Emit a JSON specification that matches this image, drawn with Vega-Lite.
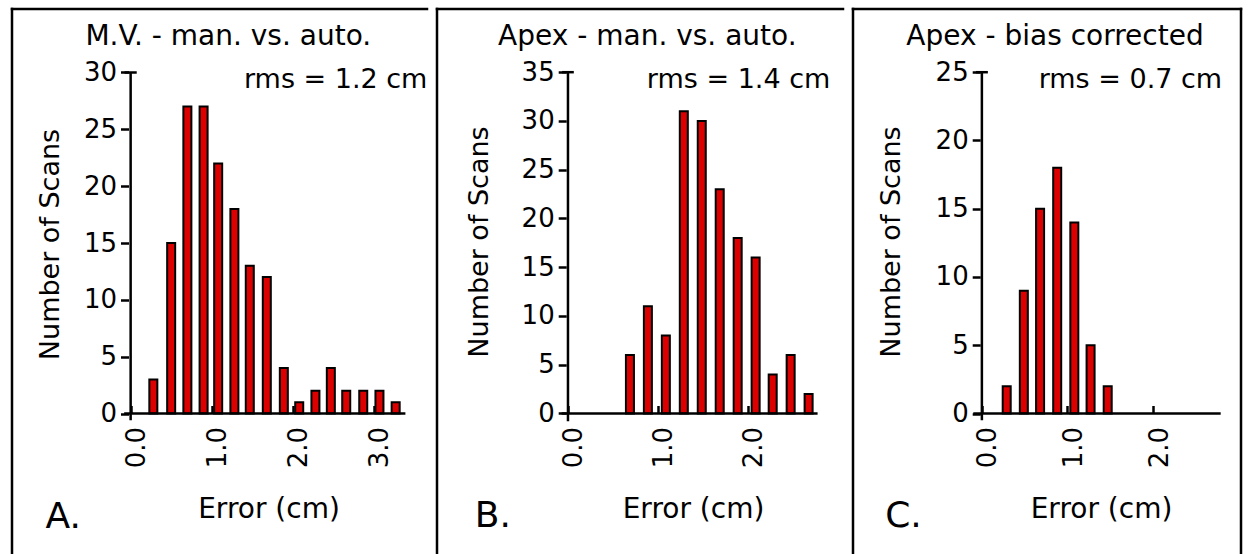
{
  "$schema": "https://vega.github.io/schema/vega-lite/v6.json",
  "background": "white",
  "padding": {"left": 7, "top": 7, "right": 0, "bottom": 0},
  "spacing": 0,
  "bounds": "flush",
  "config": {
    "view": {"stroke": null},
    "font": "DejaVu Sans",
    "axis": {"grid": false, "domain": false, "labelColor": "black", "tickColor": "black", "titleColor": "black", "labelFontSize": 26, "titleFontSize": 27, "titleFontWeight": "normal", "tickWidth": 2.5, "labelFont": "DejaVu Sans", "titleFont": "DejaVu Sans"},
    "text": {"font": "DejaVu Sans", "color": "black"},
    "rule": {"color": "black", "strokeWidth": 2.5}
  },
  "hconcat": [
    {
      "width": 425, "height": 545,
      "layer": [
        {
          "data": {"values": [
            {"error": 0.28, "scans": 3}, {"error": 0.50, "scans": 15}, {"error": 0.70, "scans": 27}, {"error": 0.90, "scans": 27},
            {"error": 1.08, "scans": 22}, {"error": 1.28, "scans": 18}, {"error": 1.47, "scans": 13}, {"error": 1.68, "scans": 12},
            {"error": 1.89, "scans": 4}, {"error": 2.08, "scans": 1}, {"error": 2.28, "scans": 2}, {"error": 2.47, "scans": 4},
            {"error": 2.66, "scans": 2}, {"error": 2.87, "scans": 2}, {"error": 3.07, "scans": 2}, {"error": 3.27, "scans": 1}
          ]},
          "mark": {"type": "bar", "orient": "vertical", "width": 8, "fill": "#dd0000", "stroke": "black", "strokeWidth": 2},
          "encoding": {
            "x": {"field": "error", "type": "quantitative", "scale": {"domain": [-1.4639, 3.6566], "nice": false, "zero": false},
              "axis": {"values": [0, 1, 2, 3], "format": ".1f", "labelAngle": 270, "tickSize": -8, "labelPadding": 21, "labelOffset": 6, "offset": -140.5,
                "title": "Error (cm)", "titleX": 261.5, "titleY": 104, "titleBaseline": "alphabetic", "titleAlign": "center", "titleFontSize": 28}},
            "y": {"field": "scans", "type": "quantitative", "scale": {"domain": [-12.36, 35.586], "nice": false, "zero": false},
              "axis": {"values": [0, 5, 10, 15, 20, 25, 30], "tickSize": 8, "labelPadding": 4, "offset": -121.5,
                "title": "Number of Scans", "titleAngle": 270, "titleX": -70, "titleY": 235, "titleBaseline": "alphabetic", "titleAlign": "center"}}
          }
        },
        {"data": {"values": [{"part": "x axis"}]}, "mark": "rule", "encoding": {"x": {"datum": -0.08}, "x2": {"datum": 3.39}, "y": {"datum": 0}}},
        {"data": {"values": [{"part": "y axis"}]}, "mark": "rule", "encoding": {"x": {"datum": 0}, "y": {"datum": 30}, "y2": {"datum": -0.6}}},
        {"data": {"values": [{"part": "y cap"}]}, "mark": "rule", "encoding": {"x": {"datum": -0.075}, "x2": {"datum": 0.075}, "y": {"datum": 30}}},
        {"data": {"values": [{"part": "left edge"}]}, "mark": {"type": "rule", "strokeCap": "square"}, "encoding": {"x": {"datum": -1.4639}, "y": {"datum": 35.586}, "y2": {"datum": -12.36}}},
        {"data": {"values": [{"part": "top edge"}]}, "mark": {"type": "rule", "strokeCap": "square"}, "encoding": {"x": {"datum": -1.4639}, "x2": {"datum": 3.6566}, "y": {"datum": 35.586}}},
        {"data": {"values": [{"label": "M.V. - man. vs. auto."}]}, "mark": {"type": "text", "fontSize": 28, "align": "center", "baseline": "alphabetic"},
          "encoding": {"x": {"datum": 1.205}, "y": {"datum": 32.44}, "text": {"field": "label"}}},
        {"data": {"values": [{"label": "rms = 1.2 cm"}]}, "mark": {"type": "text", "fontSize": 27, "align": "center", "baseline": "alphabetic"},
          "encoding": {"x": {"datum": 2.53}, "y": {"datum": 28.65}, "text": {"field": "label"}}},
        {"data": {"values": [{"label": "A."}]}, "mark": {"type": "text", "fontSize": 36, "align": "center", "baseline": "alphabetic"},
          "encoding": {"x": {"datum": -0.831}, "y": {"datum": -10.03}, "text": {"field": "label"}}}
      ]
    },
    {
      "width": 416, "height": 545,
      "layer": [
        {
          "data": {"values": [
            {"error": 0.69, "scans": 6}, {"error": 0.89, "scans": 11}, {"error": 1.09, "scans": 8}, {"error": 1.29, "scans": 31},
            {"error": 1.49, "scans": 30}, {"error": 1.69, "scans": 23}, {"error": 1.89, "scans": 18}, {"error": 2.09, "scans": 16},
            {"error": 2.28, "scans": 4}, {"error": 2.48, "scans": 6}, {"error": 2.68, "scans": 2}
          ]},
          "mark": {"type": "bar", "orient": "vertical", "width": 8, "fill": "#dd0000", "stroke": "black", "strokeWidth": 2},
          "encoding": {
            "x": {"field": "error", "type": "quantitative", "scale": {"domain": [-1.4587, 3.063], "nice": false, "zero": false},
              "axis": {"values": [0, 1, 2], "format": ".1f", "labelAngle": 270, "tickSize": -8, "labelPadding": 21, "labelOffset": 6, "offset": -140.5,
                "title": "Error (cm)", "titleX": 261, "titleY": 104, "titleBaseline": "alphabetic", "titleAlign": "center", "titleFontSize": 28}},
            "y": {"field": "scans", "type": "quantitative", "scale": {"domain": [-14.41, 41.48], "nice": false, "zero": false},
              "axis": {"values": [0, 5, 10, 15, 20, 25, 30, 35], "tickSize": 8, "labelPadding": 4, "offset": -134.2,
                "title": "Number of Scans", "titleAngle": 270, "titleX": -79, "titleY": 232.5, "titleBaseline": "alphabetic", "titleAlign": "center"}}
          }
        },
        {"data": {"values": [{"part": "x axis"}]}, "mark": "rule", "encoding": {"x": {"datum": -0.07}, "x2": {"datum": 2.78}, "y": {"datum": 0}}},
        {"data": {"values": [{"part": "y axis"}]}, "mark": "rule", "encoding": {"x": {"datum": 0}, "y": {"datum": 35}, "y2": {"datum": -0.8}}},
        {"data": {"values": [{"part": "y cap"}]}, "mark": "rule", "encoding": {"x": {"datum": -0.065}, "x2": {"datum": 0.065}, "y": {"datum": 35}}},
        {"data": {"values": [{"part": "left edge"}]}, "mark": {"type": "rule", "strokeCap": "square"}, "encoding": {"x": {"datum": -1.4587}, "y": {"datum": 41.48}, "y2": {"datum": -14.41}}},
        {"data": {"values": [{"part": "top edge"}]}, "mark": {"type": "rule", "strokeCap": "square"}, "encoding": {"x": {"datum": -1.4587}, "x2": {"datum": 3.063}, "y": {"datum": 41.48}}},
        {"data": {"values": [{"label": "Apex - man. vs. auto."}]}, "mark": {"type": "text", "fontSize": 28, "align": "center", "baseline": "alphabetic"},
          "encoding": {"x": {"datum": 0.884}, "y": {"datum": 37.81}, "text": {"field": "label"}}},
        {"data": {"values": [{"label": "rms = 1.4 cm"}]}, "mark": {"type": "text", "fontSize": 27, "align": "center", "baseline": "alphabetic"},
          "encoding": {"x": {"datum": 1.90}, "y": {"datum": 33.40}, "text": {"field": "label"}}},
        {"data": {"values": [{"label": "B."}]}, "mark": {"type": "text", "fontSize": 36, "align": "center", "baseline": "alphabetic"},
          "encoding": {"x": {"datum": -0.837}, "y": {"datum": -11.59}, "text": {"field": "label"}}}
      ]
    },
    {
      "width": 398, "height": 545,
      "layer": [
        {
          "data": {"values": [
            {"error": 0.29, "scans": 2}, {"error": 0.49, "scans": 9}, {"error": 0.68, "scans": 15}, {"error": 0.88, "scans": 18},
            {"error": 1.08, "scans": 14}, {"error": 1.27, "scans": 5}, {"error": 1.47, "scans": 2}
          ]},
          "mark": {"type": "bar", "orient": "vertical", "width": 8, "fill": "#dd0000", "stroke": "black", "strokeWidth": 2},
          "encoding": {
            "x": {"field": "error", "type": "quantitative", "scale": {"domain": [-1.5057, 3.0273], "nice": false, "zero": false},
              "axis": {"values": [0, 1, 2], "format": ".1f", "labelAngle": 270, "tickSize": -8, "labelPadding": 21, "labelOffset": 6, "offset": -140.5,
                "title": "Error (cm)", "titleX": 253, "titleY": 104, "titleBaseline": "alphabetic", "titleAlign": "center", "titleFontSize": 28}},
            "y": {"field": "scans", "type": "quantitative", "scale": {"domain": [-10.29, 29.63], "nice": false, "zero": false},
              "axis": {"values": [0, 5, 10, 15, 20, 25], "tickSize": 8, "labelPadding": 4, "offset": -132.2,
                "title": "Number of Scans", "titleAngle": 270, "titleX": -81, "titleY": 232.5, "titleBaseline": "alphabetic", "titleAlign": "center"}}
          }
        },
        {"data": {"values": [{"part": "x axis"}]}, "mark": "rule", "encoding": {"x": {"datum": -0.1}, "x2": {"datum": 2.79}, "y": {"datum": 0}}},
        {"data": {"values": [{"part": "y axis"}]}, "mark": "rule", "encoding": {"x": {"datum": 0}, "y": {"datum": 25}, "y2": {"datum": -0.5}}},
        {"data": {"values": [{"part": "y cap"}]}, "mark": "rule", "encoding": {"x": {"datum": -0.07}, "x2": {"datum": 0.07}, "y": {"datum": 25}}},
        {"data": {"values": [{"part": "left edge"}]}, "mark": {"type": "rule", "strokeCap": "square"}, "encoding": {"x": {"datum": -1.5057}, "y": {"datum": 29.63}, "y2": {"datum": -10.29}}},
        {"data": {"values": [{"part": "top edge"}]}, "mark": {"type": "rule", "strokeCap": "square"}, "encoding": {"x": {"datum": -1.5057}, "x2": {"datum": 3.0273}, "y": {"datum": 29.63}}},
        {"data": {"values": [{"part": "right edge"}]}, "mark": {"type": "rule", "strokeCap": "square"}, "encoding": {"x": {"datum": 3.0273}, "y": {"datum": 29.63}, "y2": {"datum": -10.29}}},
        {"data": {"values": [{"label": "Apex - bias corrected"}]}, "mark": {"type": "text", "fontSize": 28, "align": "center", "baseline": "alphabetic"},
          "encoding": {"x": {"datum": 0.854}, "y": {"datum": 27.01}, "text": {"field": "label"}}},
        {"data": {"values": [{"label": "rms = 0.7 cm"}]}, "mark": {"type": "text", "fontSize": 27, "align": "center", "baseline": "alphabetic"},
          "encoding": {"x": {"datum": 1.735}, "y": {"datum": 23.86}, "text": {"field": "label"}}},
        {"data": {"values": [{"label": "C."}]}, "mark": {"type": "text", "fontSize": 36, "align": "center", "baseline": "alphabetic"},
          "encoding": {"x": {"datum": -0.916}, "y": {"datum": -8.28}, "text": {"field": "label"}}}
      ]
    }
  ]
}
